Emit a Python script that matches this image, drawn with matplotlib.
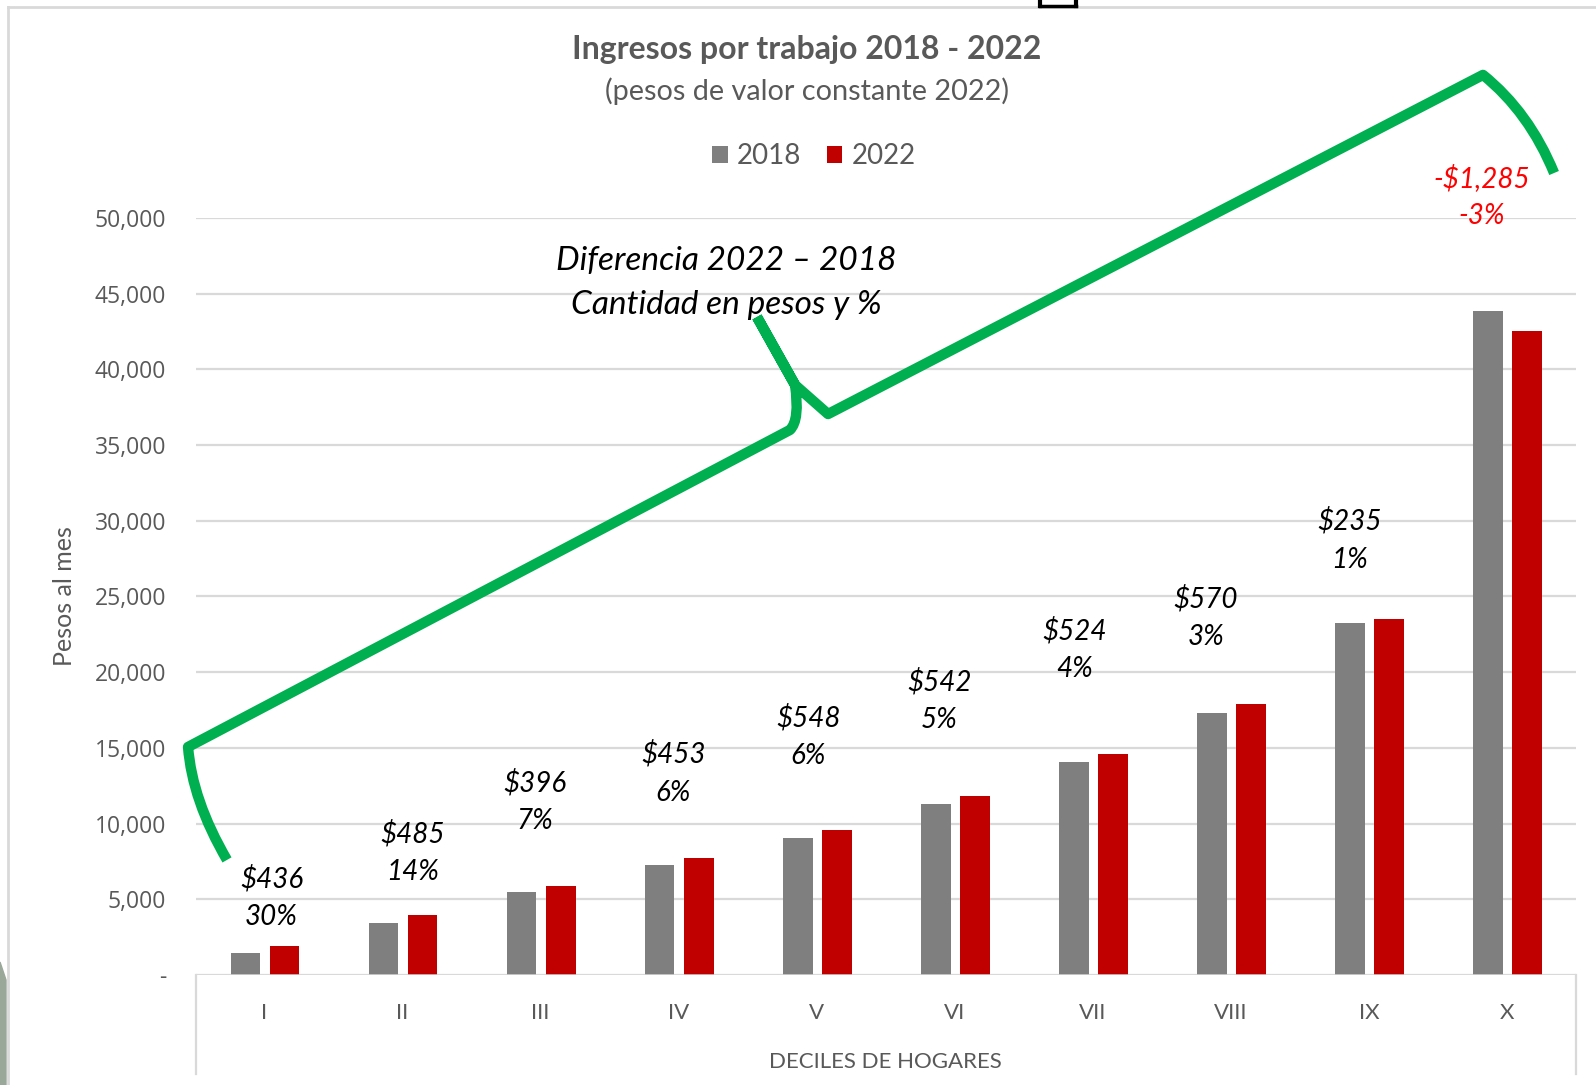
"""
Ingresos por trabajo 2018 - 2022, por decil de hogares (barras agrupadas).
"""

import matplotlib

matplotlib.use("Agg")
import matplotlib.pyplot as plt
import numpy as np
from matplotlib.lines import Line2D
from matplotlib.patches import PathPatch
from matplotlib.path import Path
from matplotlib.ticker import FuncFormatter

plt.rcParams["font.family"] = ["Lato", "DejaVu Sans"]

# --- data --------------------------------------------------------------------
deciles = ["I", "II", "III", "IV", "V", "VI", "VII", "VIII", "IX", "X"]
ingreso_2018 = [1450, 3465, 5450, 7250, 9050, 11300, 14050, 17300, 23250, 43850]
ingreso_2022 = [1886, 3950, 5846, 7703, 9598, 11842, 14574, 17870, 23485, 42565]
diferencia = [436, 485, 396, 453, 548, 542, 524, 570, 235, -1285]
diferencia_pct = [30, 14, 7, 6, 6, 5, 4, 3, 1, -3]

# where the hand-placed difference labels sit (category shift, pesos)
label_dx = [0.05, 0.07, -0.04, -0.04, -0.06, -0.11, -0.13, -0.18, -0.14, -0.18]
label_y = [5140, 8100, 11460, 13340, 15760, 18145, 21470, 23620, 28730, 51410]

GRAY = "#7f7f7f"
RED = "#c00000"
TEXT = "#595959"
GRID = "#d9d9d9"
GREEN = "#00b050"

fig = plt.figure(figsize=(15.96, 10.85), dpi=100)
ax = fig.add_axes([0.1225, 0.1014, 0.865, 0.6977])

x = np.arange(len(deciles))
w = 0.215
b18 = ax.bar(x - 0.138, ingreso_2018, w, color=GRAY, zorder=3, label="2018")
b22 = ax.bar(x + 0.145, ingreso_2022, w, color=RED, zorder=3, label="2022")

ax.set_xlim(-0.5, len(deciles) - 0.5)
ax.set_ylim(0, 50000)
ax.set_yticks(np.arange(0, 50001, 5000))
ax.yaxis.set_major_formatter(FuncFormatter(lambda v, _: "-" if v == 0 else f"{v:,.0f}"))
ax.grid(axis="y", color=GRID, linewidth=1.6, zorder=0)
for s in ax.spines.values():
    s.set_visible(False)
ax.axhline(0, color=GRID, linewidth=1.8, zorder=4)
# category-axis box sides below the baseline
for xa in (0, 1):
    ax.plot([xa, xa], [0, -0.131], transform=ax.transAxes, color=GRID,
            linewidth=1.6, clip_on=False)

ax.set_xticks(x)
ax.set_xticklabels(deciles)
ax.tick_params(axis="x", length=0, pad=20, labelsize=16, labelcolor=TEXT)
ax.tick_params(axis="y", length=0, pad=21, labelcolor=TEXT)
for lab in ax.get_yticklabels():
    lab.set_fontfamily(["Open Sans", "DejaVu Sans"])
    lab.set_fontsize(16.5)
ax.set_xlabel("DECILES DE HOGARES", fontsize=16, color=TEXT, labelpad=21)

fig.text(64 / 1596, 1 - 596 / 1085, "Pesos al mes", rotation=90, ha="center",
         va="center", fontsize=18, color=TEXT)

# titles and legend
fig.text(807 / 1596, 1 - 49 / 1085, "Ingresos por trabajo 2018 - 2022", ha="center",
         va="center", fontsize=23, fontweight="bold", color=TEXT)
fig.text(807 / 1596, 1 - 91 / 1085, "(pesos de valor constante 2022)", ha="center",
         va="center", fontsize=20.8, color=TEXT)
fig.legend(handles=[b18, b22], loc="center", bbox_to_anchor=(814 / 1596, 1 - 156 / 1085),
           ncol=2, frameon=False, fontsize=20, handlelength=0.55, handleheight=0.55,
           handletextpad=0.35, columnspacing=0.9, labelcolor=TEXT)

# difference labels
for i, (d, p) in enumerate(zip(diferencia, diferencia_pct)):
    monto = f"-${abs(d):,}" if d < 0 else f"${d:,}"
    ax.text(x[i] + label_dx[i], label_y[i], f"{monto}\n{p}%", ha="center", va="center",
            fontsize=20, style="italic", linespacing=1.55,
            color="#ff0000" if d < 0 else "black", clip_on=False, zorder=5)

ax.text(3.343, 45700, "Diferencia 2022 \u2013 2018\nCantidad en pesos y %", ha="center",
        va="center", fontsize=24, style="italic", linespacing=1.55, color="black",
        zorder=5)

# green brace over the bars (category units, pesos)
verts = [(-0.272, 7600), (-0.525, 11560), (-0.554, 15060),
         (3.806, 36000), (3.879, 36660), (3.843, 38970),
         (3.567, 43460),
         (3.567, 43460), (3.843, 38970),
         (4.082, 37050),
         (8.826, 59450), (9.16, 57000), (9.341, 52970)]
codes = [Path.MOVETO, Path.CURVE3, Path.CURVE3,
         Path.LINETO, Path.CURVE3, Path.CURVE3,
         Path.LINETO,
         Path.MOVETO, Path.LINETO,
         Path.LINETO,
         Path.LINETO, Path.CURVE3, Path.CURVE3]
ax.add_patch(PathPatch(Path(verts, codes), facecolor="none", edgecolor=GREEN,
                       linewidth=7.5, joinstyle="round", capstyle="butt",
                       clip_on=False, zorder=6))

# slide frame bits around the chart
fig.add_artist(Line2D([8 / 1596, 1], [1 - 7 / 1085] * 2, color=GRID, linewidth=2))
fig.add_artist(Line2D([8 / 1596] * 2, [0, 1 - 7 / 1085], color=GRID, linewidth=2))
fig.add_artist(plt.Polygon([(0, 0), (6 / 1596, 0), (6 / 1596, 1 - 980 / 1085),
                            (0, 1 - 962 / 1085)], closed=True, color="#9aa89a",
                           transform=fig.transFigure))
# cut-off black bracket shape peeking in at the top edge
for bx in (1040, 1076):
    fig.add_artist(Line2D([bx / 1596] * 2, [1, 1 - 6 / 1085], color="black", linewidth=3))
fig.add_artist(Line2D([1040 / 1596, 1076 / 1596], [1 - 6 / 1085] * 2, color="black",
                      linewidth=2.5))

fig.savefig("out.png", dpi=100)
plt.close(fig)
